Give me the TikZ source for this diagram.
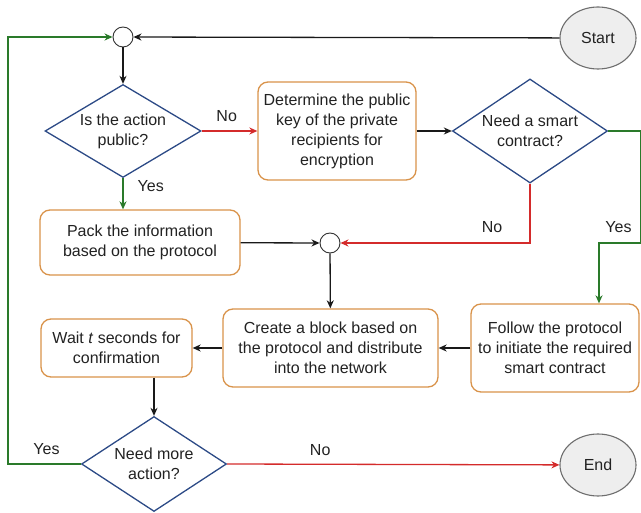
\documentclass[tikz,border=0pt]{standalone}
\usepackage{fontspec}
\setmainfont{Liberation Sans}
\usetikzlibrary{shapes.geometric,arrows.meta}
\definecolor{boxorange}{HTML}{D9934A}
\definecolor{decblue}{HTML}{2C4A86}
\definecolor{yesgreen}{HTML}{2A7A2A}
\definecolor{nored}{HTML}{D42B2B}
\definecolor{termfill}{HTML}{EEEEEE}
\definecolor{termline}{HTML}{6E6E6E}
\definecolor{txt}{HTML}{222222}

\begin{document}
\begin{tikzpicture}[x=1pt,y=-1pt,
  font=\fontsize{16}{20}\selectfont, text=txt,
  proc/.style={draw=boxorange, line width=1.3pt, rounded corners=10pt,
    align=center, inner sep=0pt, fill=white},
  decision/.style={diamond, draw=decblue, line width=1.3pt, inner sep=0pt,
    fill=white},
  terminal/.style={ellipse, draw=termline, line width=1.1pt, fill=termfill,
    minimum width=76pt, minimum height=62pt, inner sep=0pt},
  junction/.style={circle, draw=black!80, line width=0.9pt, fill=white,
    minimum size=20pt, inner sep=0pt},
  tip/.style={-{Stealth[length=8pt,width=7pt,inset=2.5pt]}},
  flow/.style={tip, draw=black!90, line width=1.3pt},
  yesflow/.style={tip, draw=yesgreen, line width=1.3pt},
  noflow/.style={tip, draw=nored, line width=1.3pt},
  lbl/.style={inner sep=0pt}
]
\useasboundingbox (0,0) rectangle (641,513);

% nodes
\node[junction] (j1) at (123,37) {};
\node[terminal] (start) at (598,38) {Start};
\node[decision, minimum width=156pt, minimum height=93pt,
  label={[align=center]center:Is the action\\public?}] (d1) at (123,131) {};
\node[proc, minimum width=158pt, minimum height=98pt] (key) at (337,131)
  {Determine the public\\key of the private\\recipients for\\encryption};
\node[decision, minimum width=155pt, minimum height=104pt,
  label={[align=center]center:Need a smart\\contract?}] (d2) at (530,131) {};
\node[proc, minimum width=200pt, minimum height=65pt] (pack) at (140,242.5)
  {Pack the information\\based on the protocol};
\node[junction] (j2) at (330,243) {};
\node[proc, minimum width=215pt, minimum height=78pt] (block) at (330.5,348)
  {Create a block based on\\the protocol and distribute\\into the network};
\node[proc, minimum width=168pt, minimum height=88pt] (follow) at (555,348)
  {Follow the protocol\\to initiate the required\\smart contract};
\node[proc, minimum width=151pt, minimum height=58pt] (wait) at (116.5,348)
  {Wait \textit{t} seconds for\\confirmation};
\node[decision, minimum width=145pt, minimum height=95pt,
  label={[align=center]center:Need more\\action?}] (d3) at (154,464) {};
\node[terminal] (end) at (598,465) {End};

% connectors
\draw[flow] (start) -- (j1);
\draw[flow] (j1) -- (d1);
\draw[noflow] (d1) -- node[lbl, above=9pt, pos=0.45] {No} (key);
\draw[flow] (key) -- (d2);
\draw[yesflow] (d1.south) -- node[lbl, right=14pt, pos=0.25] {Yes} (d1.south |- pack.north);
\draw[yesflow] (d2.east) -- ++(32,0) -- ++(0,112)
  node[lbl, left=8pt, pos=0.86] {Yes} -| ([xshift=44pt]follow.north);
\draw[noflow] (d2.south) |- node[lbl, pos=0.6, above=10pt] {No} (j2.east);
\draw[flow] (pack) -- (j2);
\draw[flow] (j2) -- (block);
\draw[flow] (follow) -- (block);
\draw[flow] (block) -- (wait);
\draw[flow] (wait.south -| d3.north) -- (d3.north);
\draw[yesflow] (d3.west) -- node[lbl, pos=0.47, above=9pt] {Yes} ++(-73,0) |- (j1.west);
\draw[noflow] (d3.east) -- node[lbl, pos=0.28, above=8pt] {No} (end);
\end{tikzpicture}
\end{document}
